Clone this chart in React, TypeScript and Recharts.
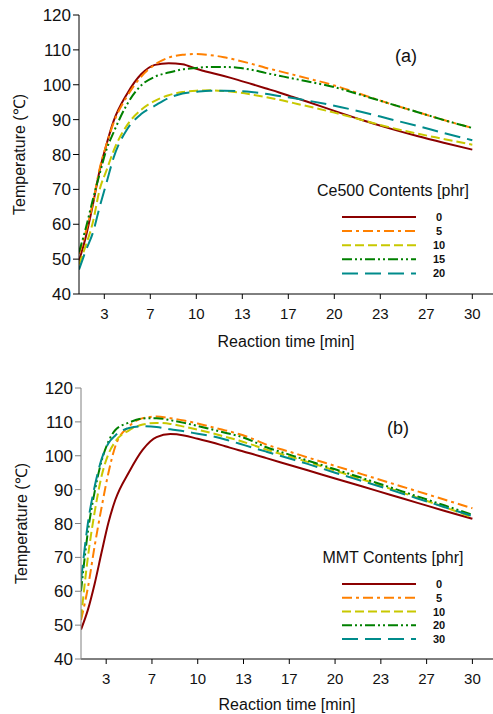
import { LineChart, Line, XAxis, YAxis, Legend } from 'recharts';

const FONT = '"Liberation Sans", Arial, sans-serif';

// reaction time [min]
const time = [1.5, 2, 2.5, 3, 3.5, 4, 5, 6, 7, 8, 9, 10, 11, 12, 13, 14, 15, 16, 17, 18, 20, 22, 24, 26, 28, 30];

// (a) Ce500 contents
const ce0 = [49.5, 56.5, 65.5, 75.5, 83, 89.5, 97.5, 103, 105.7, 106.2, 105.9, 104.6, 103.5, 102.5, 101.4, 100.2, 99, 97.8, 96.5, 95.2, 92.5, 89.9, 87.5, 85.3, 83.3, 81.4];
const ce5 = [51.5, 58, 66, 76, 83, 89, 96.8, 102.3, 105.8, 107.8, 108.6, 108.8, 108.5, 107.9, 107, 106, 104.9, 103.9, 102.9, 101.9, 99.8, 97.2, 94.6, 92.2, 89.8, 87.6];
const ce10 = [48.5, 54, 60.5, 70, 75.5, 81, 88.5, 92.8, 95.4, 97, 97.9, 98.3, 98.4, 98.2, 97.8, 97.2, 96.5, 95.7, 94.8, 93.9, 92, 89.9, 87.8, 86, 84.4, 82.8];
const ce15 = [52, 59, 67, 74.5, 81.5, 86.3, 94.5, 99.8, 102.3, 103.5, 104.4, 104.8, 105.1, 105.1, 104.9, 104.3, 103.4, 102.6, 101.8, 101, 99.3, 97, 94.6, 92.2, 89.8, 87.6];
const ce20 = [47, 52.5, 57.5, 65, 72, 79, 87.3, 91.6, 94, 96.2, 97.5, 98, 98.3, 98.3, 98.2, 97.9, 97.4, 96.8, 96.2, 95.5, 94, 92.2, 90.2, 88.2, 86.1, 84.1];

// (b) MMT contents
const mmt0 = [48.7, 54.5, 62.3, 71.5, 80.3, 87, 95.2, 101.8, 105.5, 106.4, 106, 105, 104, 102.8, 101.6, 100.5, 99.3, 98.1, 96.9, 95.7, 93.3, 90.9, 88.5, 86.1, 83.7, 81.4];
const mmt5 = [51.5, 61, 73.5, 84.8, 95, 102.8, 108.7, 111.1, 111.6, 111.1, 110.4, 109.5, 108.5, 107.5, 106.4, 105, 103.3, 102, 100.8, 99.5, 97, 94.5, 92, 89.5, 87, 84.5];
const mmt10 = [52, 70, 83.5, 94, 100.5, 104.2, 107.5, 109.2, 109.7, 109.4, 108.6, 107.7, 106.7, 105.6, 104.5, 103.2, 101.8, 100.6, 99.4, 98.2, 95.6, 93, 90.3, 87.6, 84.8, 81.8];
const mmt20 = [60, 77.5, 89.5, 98.5, 104.2, 107.6, 109.8, 111, 111.1, 110.5, 109.7, 108.8, 107.8, 106.8, 105.8, 104.3, 102.5, 101.2, 99.9, 98.6, 96, 93.4, 90.7, 88, 85.3, 82.6];
const mmt30 = [63, 80, 91, 99, 103.7, 106, 108.2, 108.7, 108.5, 107.8, 107.2, 106.5, 105.8, 104.8, 103.6, 102.4, 101.2, 100, 98.8, 97.6, 95, 92.5, 90, 87.4, 84.8, 82.2];

const xTicks = [10 / 3, 20 / 3, 10, 40 / 3, 50 / 3, 20, 70 / 3, 80 / 3, 30];
const yTicks = [40, 50, 60, 70, 80, 90, 100, 110, 120];

const colors = ['#8B0000', '#FF8000', '#C8C800', '#008000', '#008B8B'];
const dashes = ['', '10 4 3 4', '9 4', '10 3 2 3 2 3', '16 7'];

const ceNames = ['0', '5', '10', '15', '20'];
const mmtNames = ['0', '5', '10', '20', '30'];

const toRows = (series: number[][]) =>
  time.map((t, i) => {
    const row: Record<string, number> = { t };
    series.forEach((s, k) => (row['s' + k] = s[i]));
    return row;
  });

const dataA = toRows([ce0, ce5, ce10, ce15, ce20]);
const dataB = toRows([mmt0, mmt5, mmt10, mmt20, mmt30]);

function LegendBox({ title, names, gap }: { title: string; names: string[]; gap: number }) {
  return (
    <div style={{ width: 170, fontFamily: FONT, color: '#111' }}>
      <div style={{ fontSize: 16, lineHeight: '20px', height: 20, textAlign: 'center', whiteSpace: 'nowrap' }}>{title}</div>
      <svg width={170} height={16 + gap * 4 + 10} style={{ display: 'block' }}>
        {names.map((n, i) => (
          <g key={n}>
            <line x1={34} x2={108} y1={16 + gap * i} y2={16 + gap * i} stroke={colors[i]} strokeWidth={2} strokeDasharray={dashes[i] || undefined} />
            <text x={131} y={16 + gap * i} textAnchor="middle" dominantBaseline="central" fontSize={11} fontWeight="bold" fill="#111">
              {n}
            </text>
          </g>
        ))}
      </svg>
    </div>
  );
}

function Panel({ data, names, title, yWidth, margin, axisColor, legendTop, gap, yLabelX, xLabelOff }: any) {
  return (
    <LineChart width={493} height={357} data={data} margin={margin}>
      <XAxis
        dataKey="t"
        type="number"
        domain={[1.5, 31.5]}
        ticks={xTicks}
        interval={0}
        allowDataOverflow
        tickFormatter={(v: number) => String(Math.round(v))}
        height={30}
        tickSize={5}
        tickMargin={9}
        stroke="#000"
        tick={{ fill: '#111', fontSize: 15, fontFamily: FONT }}
        label={{ value: 'Reaction time [min]', position: 'bottom', offset: xLabelOff, fill: '#111', fontSize: 16, fontFamily: FONT }}
      />
      <YAxis
        type="number"
        domain={[40, 120]}
        ticks={yTicks}
        interval={0}
        width={yWidth}
        tickSize={6}
        stroke={axisColor}
        tick={{ fill: '#111', fontSize: 17, fontFamily: FONT }}
        label={{ value: 'Temperature (℃)', angle: -90, position: 'insideLeft', offset: yLabelX, fill: '#111', fontSize: 16, fontFamily: FONT, style: { textAnchor: 'middle' } }}
      />
      <Legend
        layout="horizontal"
        verticalAlign="middle"
        align="center"
        wrapperStyle={{ position: 'absolute', top: legendTop, left: 308, width: 170 }}
        content={() => <LegendBox title={title} names={names} gap={gap} />}
      />
      {names.map((n: string, k: number) => (
        <Line
          key={k}
          type="monotone"
          dataKey={'s' + k}
          name={n}
          stroke={colors[k]}
          strokeWidth={2}
          strokeDasharray={dashes[k] || undefined}
          dot={false}
          isAnimationActive={false}
        />
      ))}
    </LineChart>
  );
}

export default function App() {
  const tag = { position: 'absolute' as const, fontFamily: FONT, fontSize: 18, lineHeight: 1, color: '#111', transform: 'translate(-50%, -50%)' };
  return (
    <div style={{ position: 'absolute', left: 0, top: 0, width: 493, height: 714, background: '#fff' }}>
      <div style={{ position: 'absolute', left: 0, top: 0 }}>
        <Panel data={dataA} names={ceNames} title="Ce500 Contents [phr]" yWidth={79} margin={{ top: 15, right: 0, bottom: 33, left: 0 }} axisColor="#000" legendTop={181} gap={14.1} yLabelX={19} xLabelOff={12} />
      </div>
      <div style={{ position: 'absolute', left: 0, top: 357 }}>
        <Panel data={dataB} names={mmtNames} title="MMT Contents [phr]" yWidth={81} margin={{ top: 31, right: 0, bottom: 25, left: 0 }} axisColor="#808080" legendTop={191} gap={13.75} yLabelX={21} xLabelOff={10} />
      </div>
      <div style={{ ...tag, left: 406, top: 56 }}>(a)</div>
      <div style={{ ...tag, left: 398, top: 428 }}>(b)</div>
    </div>
  );
}
